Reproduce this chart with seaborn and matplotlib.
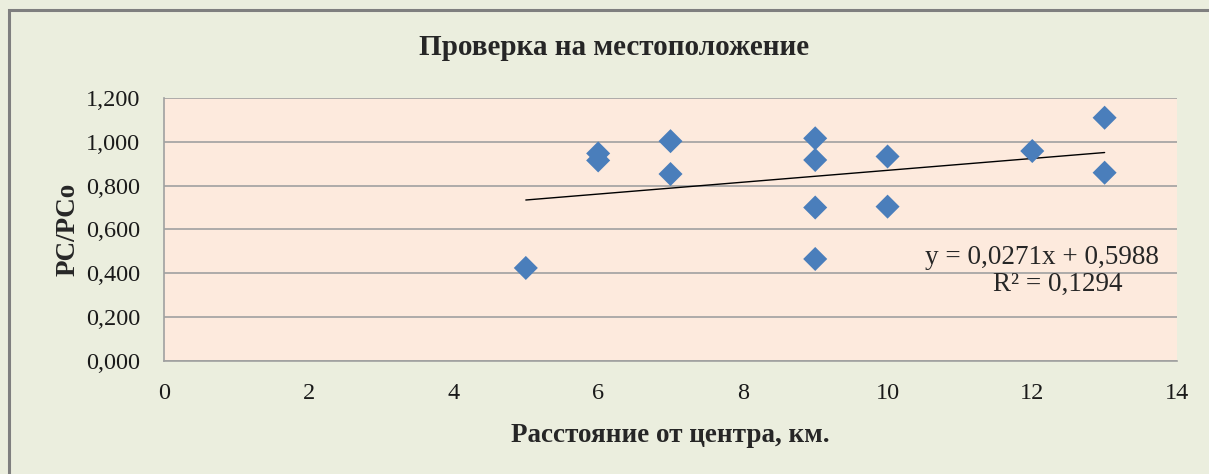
import numpy as np
import pandas as pd
import matplotlib.pyplot as plt
import matplotlib.ticker as mticker
from matplotlib.patches import Rectangle
import seaborn as sns

# distance from centre (km) and PC/PCo ratio
distance = [5, 6, 6, 7, 7, 9, 9, 9, 9, 10, 10, 12, 13, 13]
ratio = [0.424, 0.947, 0.915, 1.003, 0.853, 1.016, 0.917, 0.700, 0.465,
         0.933, 0.704, 0.958, 1.110, 0.859]

# trend line coefficients as printed on the chart
slope = 0.0271
intercept = 0.5988
r2 = 0.1294

df = pd.DataFrame({"dist": distance, "ratio": ratio})

sns.set_theme(style="white")
plt.rcParams['font.family'] = ['Liberation Serif', 'DejaVu Serif']

fig = plt.figure(figsize=(12.09, 4.74), dpi=100)
fig.patch.set_facecolor("#EBEEDE")
ax = fig.add_axes([0.1357, 0.2388, 0.8378, 0.5544])
ax.set_facecolor("#FDEADD")

# outer chart frame (only left/top visible in the reference)
fig.patches.append(Rectangle((9 / 1209, -0.1), 1.2, 1 - 10 / 474 + 0.1,
                             transform=fig.transFigure, fill=False,
                             edgecolor="#7F7F7F", linewidth=2.2, zorder=0))

sns.scatterplot(data=df, x="dist", y="ratio", marker="D", s=150,
                color="#4A7EBB", edgecolor="none", ax=ax, zorder=3)

xs = np.array([min(distance), max(distance)])
ax.plot(xs, slope * xs + intercept, color="black", linewidth=1.0, zorder=2)

ax.set_xlim(0, 14)
ax.set_ylim(0, 1.2)
ax.xaxis.set_major_locator(mticker.MultipleLocator(2))
ax.yaxis.set_major_locator(mticker.MultipleLocator(0.2))
ax.yaxis.set_major_formatter(mticker.FuncFormatter(lambda v, p: f"{v:.3f}".replace(".", ",")))
ax.grid(axis="y", color="#A0A0A0", linewidth=1.2)
ax.set_axisbelow(True)
ax.tick_params(length=0, labelsize=17.5, colors="#1A1A1A")
ax.tick_params(axis="x", pad=16)
ax.tick_params(axis="y", pad=17)

for side in ["top", "right"]:
    ax.spines[side].set_visible(False)
for side in ["left", "bottom"]:
    ax.spines[side].set_color("#A0A0A0")
    ax.spines[side].set_linewidth(1.2)

ax.set_xlabel("Расстояние от центра, км.", fontsize=19.5, fontweight="bold", labelpad=14)
ax.set_ylabel("PC/PCo", fontsize=19.5, fontweight="bold", labelpad=4)
fig.text(0.508, 0.90, "Проверка на местоположение", ha="center", va="center",
         fontsize=21, fontweight="bold")

ax.text(12.14, 0.474, f"y = {slope:.4f}x + {intercept:.4f}".replace(".", ","),
        ha="center", va="center", fontsize=19.5)
ax.text(12.35, 0.351, f"R² = {r2:.4f}".replace(".", ","),
        ha="center", va="center", fontsize=19.5)

fig.savefig("out.png", dpi=100, facecolor=fig.get_facecolor())
